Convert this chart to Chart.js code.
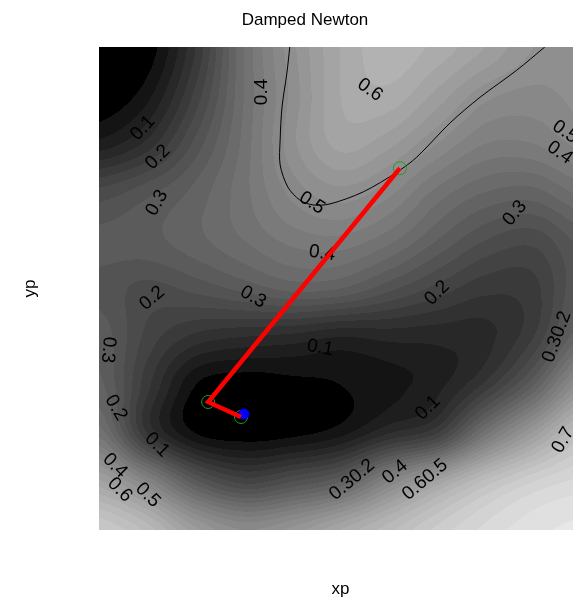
<!DOCTYPE html>
<html>
<head>
<meta charset="utf-8">
<script src="https://cdn.jsdelivr.net/npm/chart.js@4.4.1/dist/chart.umd.min.js"></script>
<style>
  html, body { margin: 0; padding: 0; background: #fff; overflow: hidden; }
  .wrap { width: 600px; height: 605px; }
</style>
</head>
<body>
<div class="wrap"><canvas id="newtonChart" width="600" height="605"></canvas></div>
<script>
// objective surface (rows top -> bottom, yp = 1 .. 0)
const gridX = [0, 0.1, 0.2, 0.3, 0.4, 0.5, 0.6, 0.7, 0.8, 0.9, 1.0];
const gridY = [1.0, 0.9, 0.8, 0.7, 0.6, 0.5, 0.4, 0.3, 0.2, 0.1, 0];
const field = [
    [0.00, 0.01, 0.15, 0.36, 0.50, 0.60, 0.65, 0.62, 0.57, 0.51, 0.49],
    [0.00, 0.05, 0.19, 0.36, 0.49, 0.60, 0.62, 0.56, 0.49, 0.47, 0.49],
    [0.07, 0.13, 0.25, 0.37, 0.50, 0.58, 0.55, 0.48, 0.42, 0.42, 0.46],
    [0.22, 0.26, 0.31, 0.38, 0.46, 0.50, 0.46, 0.38, 0.33, 0.32, 0.37],
    [0.28, 0.29, 0.32, 0.36, 0.40, 0.41, 0.37, 0.30, 0.24, 0.22, 0.28],
    [0.26, 0.23, 0.25, 0.28, 0.31, 0.30, 0.25, 0.20, 0.16, 0.17, 0.27],
    [0.29, 0.20, 0.14, 0.12, 0.11, 0.09, 0.10, 0.10, 0.11, 0.18, 0.33],
    [0.31, 0.16, 0.03, 0.01, 0.02, 0.03, 0.05, 0.08, 0.16, 0.30, 0.50],
    [0.38, 0.15, 0.03, 0.01, 0.02, 0.05, 0.12, 0.18, 0.38, 0.55, 0.70],
    [0.58, 0.45, 0.28, 0.20, 0.24, 0.30, 0.45, 0.58, 0.70, 0.78, 0.82],
    [0.75, 0.68, 0.55, 0.48, 0.52, 0.60, 0.68, 0.76, 0.82, 0.86, 0.88]
];

// the 0.5 level curve
const contourX = [0.395, 0.389, 0.379, 0.375, 0.375, 0.391, 0.416, 0.443, 0.478, 0.547, 0.617, 0.658, 0.727, 0.789, 0.865, 0.923];
const contourY = [1.000, 0.946, 0.876, 0.807, 0.756, 0.710, 0.683, 0.673, 0.675, 0.700, 0.741, 0.772, 0.843, 0.896, 0.952, 1.000];

// damped newton iterates
const iterX = [0.623, 0.226, 0.294];
const iterY = [0.749, 0.265, 0.234];
const finalX = [0.300];
const finalY = [0.240];

// contour labels
const labelText = ['0.4', '0.6', '0.1', '0.2', '0.3', '0.5', '0.4', '0.5', '0.4', '0.3', '0.2', '0.2', '0.3',
    '0.1', '0.3', '0.2', '0.1', '0.4', '0.6', '0.5', '0.30.2', '0.4', '0.60.5', '0.1', '0.30.2', '0.7'];
const labelX = [0.337, 0.561, 0.091, 0.122, 0.120, 0.441, 0.462, 0.965, 0.954, 0.861, 0.700, 0.110, 0.319,
    0.458, 0.019, 0.035, 0.120, 0.033, 0.043, 0.101, 0.524, 0.613, 0.675, 0.681, 0.948, 0.961];
const labelY = [0.907, 0.911, 0.832, 0.772, 0.677, 0.677, 0.573, 0.824, 0.781, 0.656, 0.491, 0.480, 0.482,
    0.377, 0.373, 0.253, 0.176, 0.133, 0.083, 0.072, 0.104, 0.120, 0.104, 0.253, 0.400, 0.186];
const labelAngle = [-90, 35, -47, -45, -60, 33, 8, 35, 35, -50, -45, -40, 30,
    10, 95, 60, 45, 45, 45, 45, -40, -40, -40, -45, -70, -60];

const toPts = (xs, ys) => xs.map((v, i) => ({ x: v, y: ys[i] }));

function cubic(p0, p1, p2, p3, t) {
    return p1 + 0.5 * t * (p2 - p0 + t * (2 * p0 - 5 * p1 + 4 * p2 - p3 + t * (3 * (p1 - p2) + p3 - p0)));
}

function cell(j, i) {
    j = Math.max(0, Math.min(gridY.length - 1, j));
    i = Math.max(0, Math.min(gridX.length - 1, i));
    return field[j][i];
}

function sampleField(xv, yv) {
    const dx = gridX[1] - gridX[0];
    const dy = gridY[0] - gridY[1];
    let fx = (xv - gridX[0]) / dx;
    let fy = (gridY[0] - yv) / dy;
    fx = Math.max(0, Math.min(gridX.length - 1.0001, fx));
    fy = Math.max(0, Math.min(gridY.length - 1.0001, fy));
    const i = Math.floor(fx), j = Math.floor(fy);
    const tx = fx - i, ty = fy - j;
    const rows = [];
    for (let r = -1; r <= 2; r++) {
        rows.push(cubic(cell(j + r, i - 1), cell(j + r, i), cell(j + r, i + 1), cell(j + r, i + 2), tx));
    }
    return cubic(rows[0], rows[1], rows[2], rows[3], ty);
}

const fieldPlugin = {
    id: 'field',
    beforeDatasetsDraw(chart) {
        const { ctx, chartArea: area, scales: { x, y } } = chart;
        const w = Math.round(area.right - area.left);
        const h = Math.round(area.bottom - area.top);
        const off = document.createElement('canvas');
        off.width = w;
        off.height = h;
        const octx = off.getContext('2d');
        const img = octx.createImageData(w, h);
        for (let j = 0; j < h; j++) {
            const yv = y.getValueForPixel(area.top + j + 0.5);
            for (let i = 0; i < w; i++) {
                const xv = x.getValueForPixel(area.left + i + 0.5);
                let v = Math.max(0, sampleField(xv, yv));
                v = Math.floor(v / 0.03) * 0.03 + 0.015;
                if (v < 0.03) v = 0;
                const g = Math.max(0, Math.min(255, Math.round(255 * Math.pow(v, 0.82))));
                const k = (j * w + i) * 4;
                img.data[k] = g;
                img.data[k + 1] = g;
                img.data[k + 2] = g;
                img.data[k + 3] = 255;
            }
        }
        octx.putImageData(img, 0, 0);
        ctx.drawImage(off, area.left, area.top);

        // contour labels
        ctx.save();
        ctx.beginPath();
        ctx.rect(area.left, area.top, w, h);
        ctx.clip();
        ctx.fillStyle = '#000';
        ctx.font = '19px "Liberation Sans", Arial, sans-serif';
        ctx.textAlign = 'center';
        ctx.textBaseline = 'middle';
        labelText.forEach((t, i) => {
            ctx.save();
            ctx.translate(x.getPixelForValue(labelX[i]), y.getPixelForValue(labelY[i]));
            ctx.rotate(labelAngle[i] * Math.PI / 180);
            ctx.fillText(t, 0, 0);
            ctx.restore();
        });
        ctx.restore();
    },
    afterDraw(chart) {
        const { ctx } = chart;
        ctx.save();
        ctx.fillStyle = '#000';
        ctx.font = '17px "Liberation Sans", Arial, sans-serif';
        ctx.textAlign = 'center';
        ctx.textBaseline = 'middle';
        ctx.fillText('Damped Newton', 305, 20);
        ctx.restore();
    }
};

const chartCtx = document.getElementById('newtonChart').getContext('2d');

new Chart(chartCtx, {
    type: 'scatter',
    data: {
        datasets: [
            {
                label: 'path',
                data: toPts(iterX, iterY),
                showLine: true,
                borderColor: '#ff0000',
                borderWidth: 4.5,
                pointRadius: 0,
                order: 0
            },
            {
                label: 'final',
                data: toPts(finalX, finalY),
                backgroundColor: '#0000ff',
                borderColor: '#0000ff',
                pointRadius: 5,
                order: 1
            },
            {
                label: 'iterates',
                data: toPts(iterX, iterY),
                backgroundColor: 'rgba(0,0,0,0)',
                borderColor: '#1e9e1e',
                borderWidth: 1,
                pointRadius: 6.5,
                order: 2
            },
            {
                label: 'level 0.5',
                data: toPts(contourX, contourY),
                showLine: true,
                borderColor: '#000',
                borderWidth: 1,
                pointRadius: 0,
                tension: 0.3,
                order: 3
            }
        ]
    },
    options: {
        responsive: false,
        animation: false,
        events: [],
        layout: { padding: { top: 47, right: 18, left: 0, bottom: 0 } },
        plugins: {
            legend: { display: false },
            tooltip: { enabled: false }
        },
        scales: {
            x: {
                type: 'linear',
                min: 0,
                max: 1,
                grid: { display: false },
                border: { display: false },
                ticks: { display: false },
                title: {
                    display: true,
                    text: 'xp',
                    color: '#000',
                    font: { family: '"Liberation Sans", Arial, sans-serif', size: 17 },
                    padding: { top: 0, bottom: 5 }
                },
                afterFit(scale) { scale.height = 75; }
            },
            y: {
                type: 'linear',
                min: 0,
                max: 1,
                grid: { display: false },
                border: { display: false },
                ticks: { display: false },
                title: {
                    display: true,
                    text: 'yp',
                    color: '#000',
                    font: { family: '"Liberation Sans", Arial, sans-serif', size: 17 },
                    padding: { top: 20, bottom: 0 }
                },
                afterFit(scale) { scale.width = 99; }
            }
        }
    },
    plugins: [fieldPlugin]
});
</script>
</body>
</html>
